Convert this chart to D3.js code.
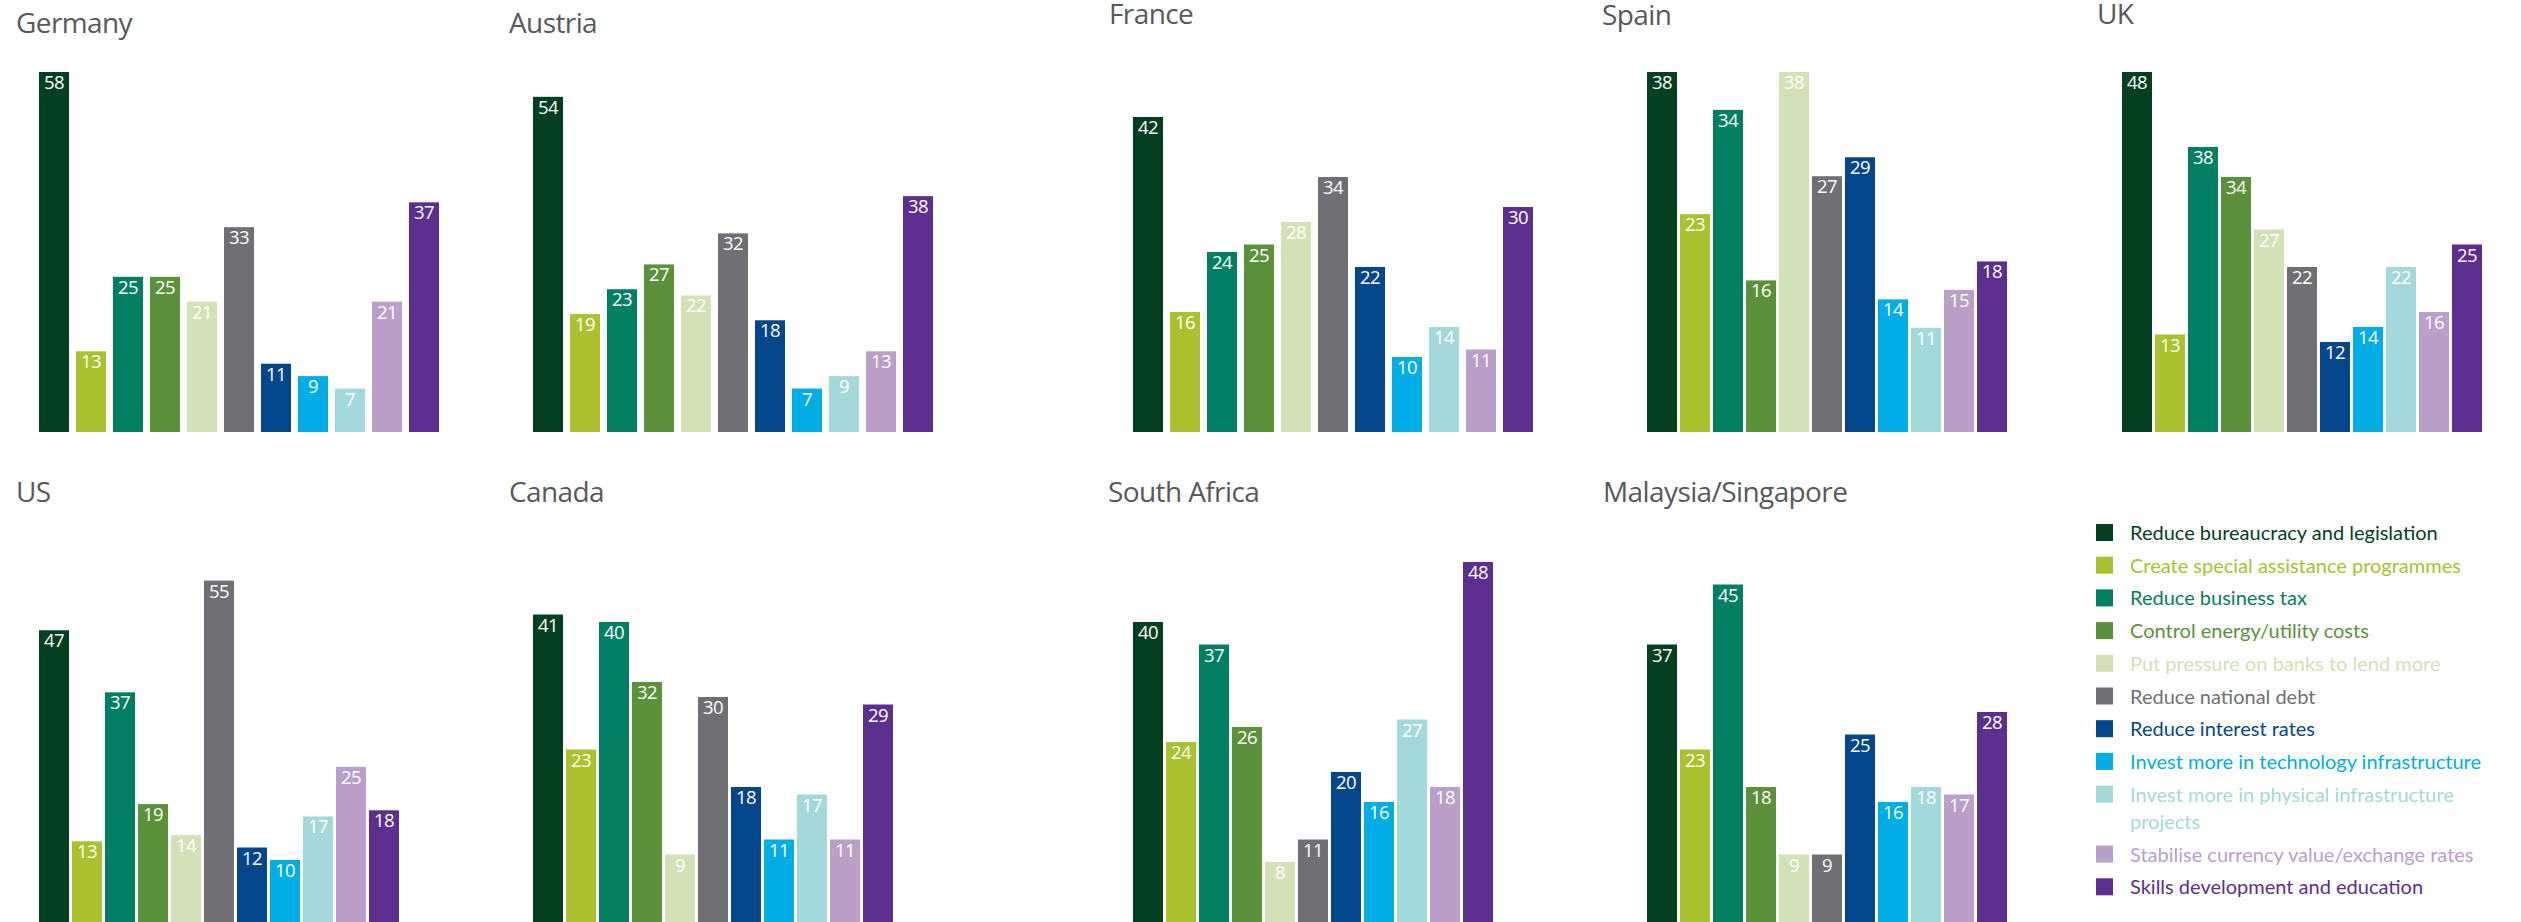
<!DOCTYPE html>
<html>
<head>
<meta charset="utf-8">
<script src="https://cdn.jsdelivr.net/npm/d3@7"></script>
<style>
  html, body { margin: 0; padding: 0; background: #ffffff; }
  svg { display: block; }
</style>
</head>
<body>
<svg id="chart" width="2521" height="922"></svg>
<script>
// Policy measures (legend order = bar order within each country)
const measures = [
  "Reduce bureaucracy and legislation",
  "Create special assistance programmes",
  "Reduce business tax",
  "Control energy/utility costs",
  "Put pressure on banks to lend more",
  "Reduce national debt",
  "Reduce interest rates",
  "Invest more in technology infrastructure",
  "Invest more in physical infrastructure projects",
  "Stabilise currency value/exchange rates",
  "Skills development and education"
];

const measureColors = [
  "#02401f", "#abc12d", "#007f62", "#5b913a", "#d3e1b6", "#707074",
  "#03468c", "#00ade6", "#a3d9da", "#baa0c9", "#5c2e8f"
];

const countries = [
  "Germany", "Austria", "France", "Spain", "UK",
  "US", "Canada", "South Africa", "Malaysia/Singapore"
];

// Share of respondents (%) per measure, one list per country
const germany  = [58, 13, 25, 25, 21, 33, 11,  9,  7, 21, 37];
const austria  = [54, 19, 23, 27, 22, 32, 18,  7,  9, 13, 38];
const france   = [42, 16, 24, 25, 28, 34, 22, 10, 14, 11, 30];
const spain    = [38, 23, 34, 16, 38, 27, 29, 14, 11, 15, 18];
const uk       = [48, 13, 38, 34, 27, 22, 12, 14, 22, 16, 25];
const us       = [47, 13, 37, 19, 14, 55, 12, 10, 17, 25, 18];
const canada   = [41, 23, 40, 32,  9, 30, 18, 11, 17, 11, 29];
const southAfrica = [40, 24, 37, 26,  8, 11, 20, 16, 27, 18, 48];
const malaysiaSingapore = [37, 23, 45, 18,  9,  9, 25, 16, 18, 17, 28];

const countryValues = [germany, austria, france, spain, uk, us, canada, southAfrica, malaysiaSingapore];

// Upper end of each country's value axis
const axisMax = [58, 58, 48, 38, 48, 58, 48, 48, 48];

// Panel placement on the page
const panelLayout = [
  { titleX: 16,   titleY: 33,  barX: 39,   step: 37, base: 432 },
  { titleX: 509,  titleY: 33,  barX: 533,  step: 37, base: 432 },
  { titleX: 1109, titleY: 24,  barX: 1133, step: 37, base: 432 },
  { titleX: 1602, titleY: 25,  barX: 1647, step: 33, base: 432 },
  { titleX: 2097, titleY: 24,  barX: 2122, step: 33, base: 432 },
  { titleX: 16,   titleY: 502, barX: 39,   step: 33, base: 922 },
  { titleX: 509,  titleY: 502, barX: 533,  step: 33, base: 922 },
  { titleX: 1108, titleY: 502, barX: 1133, step: 33, base: 922 },
  { titleX: 1603, titleY: 502, barX: 1647, step: 33, base: 922 }
];
const barWidth = 30;
const plotHeight = 360;

const svg = d3.select("#chart");
const color = d3.scaleOrdinal().domain(measures).range(measureColors);

countries.forEach((name, ci) => {
  const L = panelLayout[ci];
  const values = countryValues[ci];

  const x = d3.scaleBand()
    .domain(measures)
    .range([L.barX, L.barX + (measures.length - 1) * L.step + barWidth])
    .paddingInner((L.step - barWidth) / L.step)
    .paddingOuter(0);

  const y = d3.scaleLinear()
    .domain([0, axisMax[ci]])
    .range([L.base, L.base - plotHeight]);

  const g = svg.append("g").attr("class", "panel");

  g.append("text")
    .attr("x", L.titleX)
    .attr("y", L.titleY)
    .attr("fill", "#58595b")
    .style("font-family", "'Open Sans', sans-serif")
    .style("font-size", "28px")
    .style("letter-spacing", "-0.6px")
    .text(name);

  const data = measures.map((m, i) => ({ measure: m, value: values[i] }));

  g.selectAll("rect.bar")
    .data(data)
    .join("rect")
    .attr("class", "bar")
    .attr("x", d => x(d.measure))
    .attr("width", x.bandwidth())
    .attr("y", d => y(d.value))
    .attr("height", d => y(0) - y(d.value))
    .attr("fill", d => color(d.measure));

  g.selectAll("text.value")
    .data(data)
    .join("text")
    .attr("class", "value")
    .attr("x", d => x(d.measure) + x.bandwidth() / 2)
    .attr("y", d => y(d.value) + 17)
    .attr("text-anchor", "middle")
    .attr("fill", "#ffffff")
    .style("font-family", "'Open Sans', sans-serif")
    .style("font-size", "18.5px")
    .style("letter-spacing", "-0.5px")
    .text(d => d.value);
});

// Legend
const legend = svg.append("g").attr("class", "legend");
const legendX = 2096, legendTop = 524, rowStep = 32.7, lineHeight = 27.3, wrapWidth = 362;
let cursorY = legendTop;

measures.forEach(m => {
  const row = legend.append("g");
  row.append("rect")
    .attr("x", legendX)
    .attr("y", cursorY)
    .attr("width", 17)
    .attr("height", 17)
    .attr("fill", color(m));

  const text = row.append("text")
    .attr("x", legendX + 34)
    .attr("y", cursorY + 16)
    .attr("fill", color(m))
    .style("font-family", "Lato, sans-serif")
    .style("font-size", "20px");

  // simple word wrap
  const words = m.split(" ");
  let line = [];
  let tspan = text.append("tspan").attr("x", legendX + 34).attr("dy", 0);
  let lines = 1;
  words.forEach(w => {
    line.push(w);
    tspan.text(line.join(" "));
    if (tspan.node().getComputedTextLength() > wrapWidth && line.length > 1) {
      line.pop();
      tspan.text(line.join(" "));
      line = [w];
      tspan = text.append("tspan").attr("x", legendX + 34).attr("dy", lineHeight).text(w);
      lines++;
    }
  });
  cursorY += rowStep + (lines - 1) * lineHeight;
});
</script>
</body>
</html>
